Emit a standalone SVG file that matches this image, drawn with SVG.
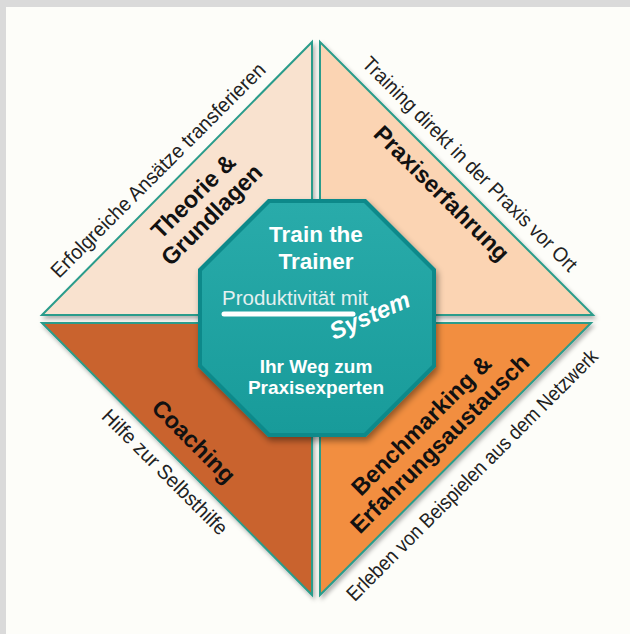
<svg xmlns="http://www.w3.org/2000/svg" width="630" height="634" viewBox="0 0 630 634">
<style>
.tri{stroke:#2b9c8b;stroke-width:2;stroke-linejoin:miter}
.side{font-family:"Liberation Sans",Arial,sans-serif;font-size:20.5px;fill:#222;text-anchor:middle}
.lbl{font-family:"Liberation Sans",Arial,sans-serif;font-size:23.5px;font-weight:bold;fill:#111;text-anchor:middle}
.ctr{font-family:"Liberation Sans",Arial,sans-serif;font-weight:bold;fill:#fff;text-anchor:middle}
</style>
<defs>
<filter id="sh" x="-10%" y="-10%" width="130%" height="130%">
<feDropShadow dx="2" dy="3" stdDeviation="2" flood-color="#000" flood-opacity="0.3"/>
</filter>
<filter id="sh2" x="-10%" y="-10%" width="130%" height="130%">
<feDropShadow dx="2" dy="4" stdDeviation="3" flood-color="#000" flood-opacity="0.4"/>
</filter>
<linearGradient id="oct" x1="0" y1="0" x2="0" y2="1">
<stop offset="0" stop-color="#29abaa"/>
<stop offset="1" stop-color="#189b9a"/>
</linearGradient>
</defs>
<rect x="0" y="0" width="630" height="634" fill="#dadada"/>
<rect x="6" y="7" width="624" height="627" fill="#fdfdf9"/>

<g id="node-theorie">
<polygon class="tri" points="42,315 312,42 312,315" fill="#f9e2cf" filter="url(#sh)"/>
<text class="side" transform="translate(163,175) rotate(-45)" textLength="294" lengthAdjust="spacingAndGlyphs">Erfolgreiche Ansätze transferieren</text>
<g transform="translate(199,202) rotate(-45)">
<text class="lbl" x="0" y="0">Theorie &amp;</text>
<text class="lbl" x="0" y="26">Grundlagen</text>
</g>
</g>

<g id="node-praxis">
<polygon class="tri" points="320,42 593,315 320,315" fill="#fbd4b3" filter="url(#sh)"/>
<text class="side" transform="translate(465,169) rotate(45)" textLength="294" lengthAdjust="spacingAndGlyphs">Training direkt in der Praxis vor Ort</text>
<text class="lbl" transform="translate(436,199) rotate(45)">Praxiserfahrung</text>
</g>

<g id="node-coaching">
<polygon class="tri" points="42,323 312,323 312,595" fill="#c9632d" filter="url(#sh)"/>
<text class="side" transform="translate(160,477) rotate(45)" textLength="168" lengthAdjust="spacingAndGlyphs">Hilfe zur Selbsthilfe</text>
<text class="lbl" transform="translate(188,447) rotate(45)">Coaching</text>
</g>

<g id="node-benchmarking">
<polygon class="tri" points="320,323 591,323 320,595" fill="#f28e40" filter="url(#sh)"/>
<text class="side" transform="translate(477,480) rotate(-45)" textLength="346" lengthAdjust="spacingAndGlyphs">Erleben von Beispielen aus dem Netzwerk</text>
<g transform="translate(427,431) rotate(-45)">
<text class="lbl" x="0" y="0">Benchmarking &amp;</text>
<text class="lbl" x="0" y="26">Erfahrungsaustausch</text>
</g>
</g>

<g id="node-center">
<polygon points="268,199 366,199 436,269 436,367 366,437 268,437 198,367 198,269" fill="#11898a" filter="url(#sh2)"/>
<polygon points="270,203 364,203 432,271 432,365 364,433 270,433 202,365 202,271" fill="url(#oct)"/>
<text class="ctr" x="316" y="242" font-size="22.5">Train the</text>
<text class="ctr" x="316" y="269" font-size="22.5">Trainer</text>
<text x="295" y="305" font-family="'Liberation Sans',Arial,sans-serif" font-size="19.5px" fill="#e4f0f0" text-anchor="middle" textLength="146" lengthAdjust="spacingAndGlyphs">Produktivität mit</text>
<line x1="224" y1="314" x2="353" y2="314" stroke="#fff" stroke-width="5" stroke-linecap="round"/>
<text transform="translate(373,323) rotate(-24)" font-family="'Liberation Sans',Arial,sans-serif" font-size="24px" font-weight="bold" font-style="italic" fill="#fff" text-anchor="middle">System</text>
<text class="ctr" x="316" y="373" font-size="19">Ihr Weg zum</text>
<text class="ctr" x="316" y="394" font-size="19">Praxisexperten</text>
</g>
</svg>
